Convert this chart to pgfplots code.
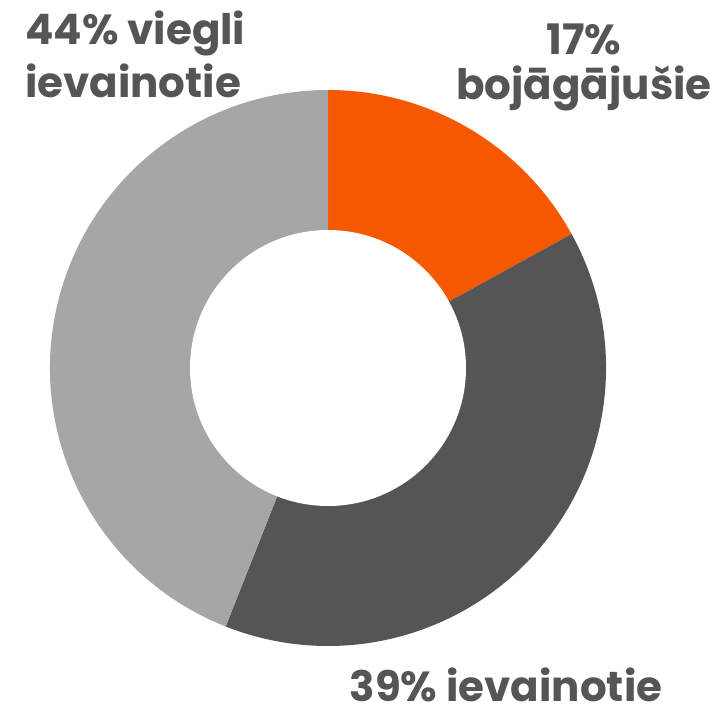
\documentclass[border=0pt]{standalone}
\usepackage{pgfplots}
\usepackage{pgfplotstable}
\pgfplotsset{compat=1.18}
\usepackage{fontspec}
\setmainfont{Poppins}
\definecolor{sliceA}{HTML}{F65800}
\definecolor{sliceB}{HTML}{555555}
\definecolor{sliceC}{HTML}{A6A6A6}
\definecolor{txt}{HTML}{555555}

% shares of the ring, in per cent, clockwise from the top
\pgfplotstableread{
share value
bojagajusie 17
ievainotie 39
viegli 44
}\shares

\pgfplotstablegetelem{0}{value}\of\shares \let\va\pgfplotsretval
\pgfplotstablegetelem{1}{value}\of\shares \let\vb\pgfplotsretval
\pgfplotstablegetelem{2}{value}\of\shares \let\vc\pgfplotsretval
\pgfmathsetmacro\aA{90}
\pgfmathsetmacro\aB{\aA-3.6*\va}
\pgfmathsetmacro\aC{\aB-3.6*\vb}
\pgfmathsetmacro\aD{\aC-3.6*\vc}

\begin{document}
\begin{tikzpicture}
\begin{axis}[
    x=1pt, y=1pt,
    xmin=0, xmax=717, ymin=0, ymax=716,
    hide axis, clip=false,
    scale only axis,
]
\path (axis cs:0,0) rectangle (axis cs:717,716);
\fill[sliceA] (axis cs:328,348) -- ++(\aA:278pt) arc[start angle=\aA, end angle=\aB, radius=278pt] -- cycle;
\fill[sliceB] (axis cs:328,348) -- ++(\aB:278pt) arc[start angle=\aB, end angle=\aC, radius=278pt] -- cycle;
\fill[sliceC] (axis cs:328,348) -- ++(\aC:278pt) arc[start angle=\aC, end angle=\aD, radius=278pt] -- cycle;
\fill[white] (axis cs:328,348) circle[radius=138pt];

\begin{scope}[every node/.style={text=txt, font=\fontsize{42}{48}\selectfont\bfseries, inner sep=0pt}]
\node[anchor=base west] at (axis cs:25,671) {44\% viegli};
\node[anchor=base west] at (axis cs:25,618) {ievainotie};
\node[anchor=base] at (axis cs:584,661) {17\%};
\node[anchor=base] at (axis cs:584,616) {bojāgājušie};
\node[anchor=base] at (axis cs:506,15) {39\% ievainotie};
\end{scope}
\end{axis}
\end{tikzpicture}
\end{document}
